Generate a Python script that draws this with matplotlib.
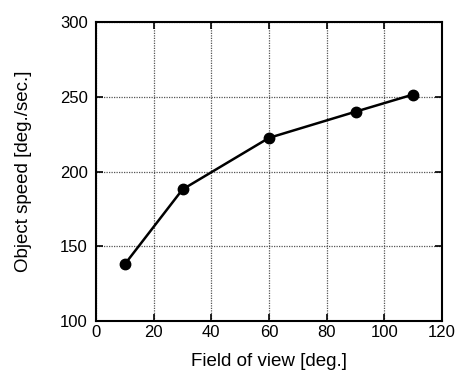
import matplotlib
matplotlib.use("Agg")
import matplotlib.pyplot as plt

plt.rcParams['font.family'] = ['Liberation Sans', 'DejaVu Sans']

fov = [10, 30, 60, 90, 110]
speed = [138, 188, 222.5, 240, 251.5]

xticks = [0, 20, 40, 60, 80, 100, 120]
yticks = [100, 150, 200, 250, 300]

fig = plt.figure(figsize=(4.55, 3.72), dpi=100)
ax = fig.add_axes([96 / 455, 1 - 321 / 372, 346 / 455, 299 / 372])

ax.plot(fov, speed, color='black', linewidth=1.8, marker='o', markersize=7.5)

ax.set_xlim(0, 120)
ax.set_ylim(100, 300)
ax.set_xticks(xticks)
ax.set_yticks(yticks)
ax.grid(True, color='#555555', linestyle=(0, (1, 1)), linewidth=0.9)
ax.tick_params(direction='in', length=5, width=1.2, top=True, right=True,
               labelsize=12, colors='black')
ax.tick_params(axis='y', pad=6)
ax.tick_params(axis='x', pad=3)
for side in ax.spines.values():
    side.set_linewidth(1.5)

ax.set_xlabel('Field of view [deg.]', fontsize=13.5, labelpad=9)
ax.set_ylabel('Object speed [deg./sec.]', fontsize=13.5, labelpad=20)

fig.savefig('out.png', dpi=100)
